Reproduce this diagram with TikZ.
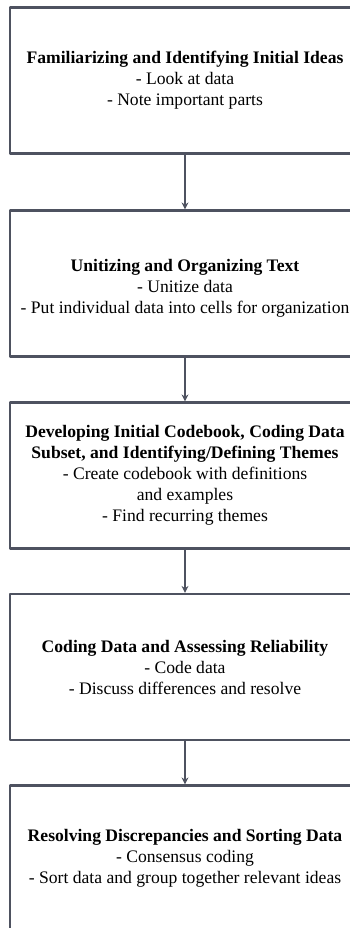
\documentclass[tikz,border=0pt]{standalone}
\usepackage{fontspec}
\setmainfont{Liberation Serif}
\usetikzlibrary{arrows.meta}
\definecolor{edgegray}{RGB}{78,82,96}
\begin{document}
\begin{tikzpicture}[x=1pt,y=-1pt,line join=round,>={Stealth[length=7pt,width=7pt]}]
            \tikzset{every node/.style={font=\fontsize{17.6}{21}\selectfont,align=center}}
            \tikzset{stagebox/.style={draw=edgegray,line width=2.2pt,minimum width=350pt,minimum height=146pt,inner sep=0pt}}
            \tikzset{flow/.style={->,draw=edgegray,fill=edgegray,line width=1.4pt}}
            \useasboundingbox (0,0) rectangle (350,928);
            \begin{scope}
                \clip (0,0) rectangle (350,928);
                \node[stagebox] (fam) at (185,80.5) {\textbf{Familiarizing and Identifying Initial Ideas}\\ - Look at data\\ - Note important parts};
                \node[stagebox] (unit) at (185,283.5) {\mbox{}\\ \textbf{Unitizing and Organizing Text}\\ - Unitize data\\ - Put individual data into cells for organization};
                \node[stagebox] (code) at (185,475.5) {\textbf{Developing Initial Codebook, Coding Data}\\ \textbf{Subset, and Identifying/Defining Themes}\\ - Create codebook with definitions\\ and examples\\ - Find recurring themes};
                \node[stagebox] (rel) at (185,667) {\textbf{Coding Data and Assessing Reliability}\\ - Code data\\ - Discuss differences and resolve};
                \node[stagebox] (sort) at (185,858.5) {\textbf{Resolving Discrepancies and Sorting Data}\\ - Consensus coding\\ - Sort data and group together relevant ideas};
                \draw[flow] (fam)--(unit);
                \draw[flow] (unit)--(code);
                \draw[flow] (code)--(rel);
                \draw[flow] (rel)--(sort);
            \end{scope}
\end{tikzpicture}
\end{document}
